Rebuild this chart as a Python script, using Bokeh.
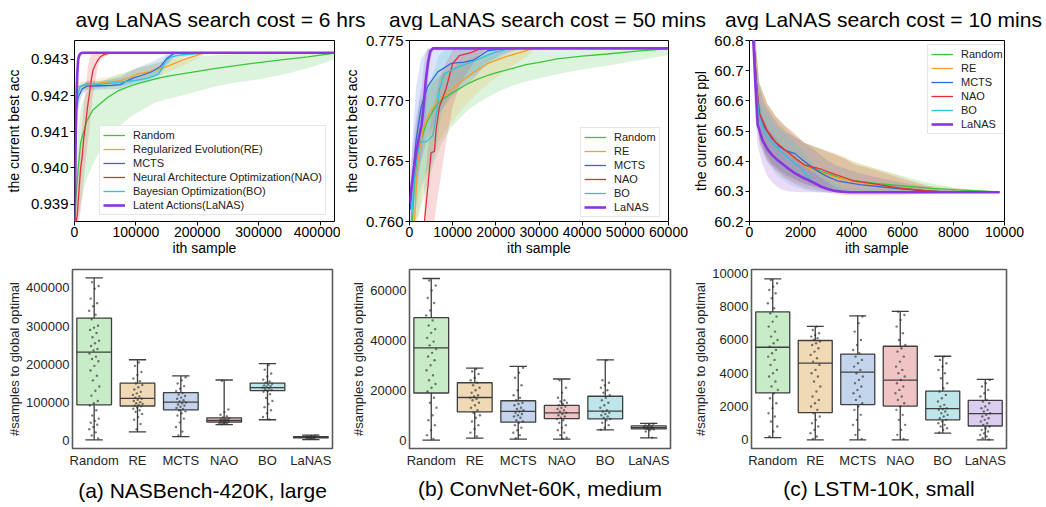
from bokeh.plotting import figure
from bokeh.layouts import column, row
from bokeh.models import (Range1d, Legend, LegendItem, Title, FixedTicker,
                          PrintfTickFormatter, Label)
from bokeh.embed import file_html
from bokeh.resources import INLINE

FONT = "Liberation Sans"

METHODS = ["Random", "RE", "MCTS", "NAO", "BO", "LaNAS"]
LONG_NAMES = ["Random", "Regularized Evolution(RE)", "MCTS",
              "Neural Architecture Optimization(NAO)",
              "Bayesian Optimization(BO)", "Latent Actions(LaNAS)"]
LINE_COLORS = ["#3cc43c", "#f5a02a", "#3567d8", "#e0303a", "#2cc4dc", "#8a35e0"]
BOX_COLORS = ["#c8ebc8", "#f0dab6", "#c4d4ec", "#f0c4c4", "#bee6ea", "#dacdf0"]

TITLES = ["avg LaNAS search cost = 6 hrs", "avg LaNAS search cost = 50 mins",
          "avg LaNAS search cost = 10 mins"]
CAPTIONS = ["(a) NASBench-420K, large", "(b) ConvNet-60K, medium", "(c) LSTM-10K, small"]

# ---------------- (a) NASBench : current best acc ----------------
NB_X_TICKS = [0, 100000, 200000, 300000, 400000]
NB_Y_TICKS = [0.939, 0.940, 0.941, 0.942, 0.943]

nb_rand_x = [0, 3000, 6000, 10000, 15000, 20000, 30000, 42000, 55000, 70000, 90000,
             110000, 130000, 150000, 175000, 200000, 230000, 260000, 300000, 340000, 380000, 424000]
nb_rand_y = [0.9385, 0.9393, 0.9400, 0.9407, 0.9410, 0.9413, 0.9416, 0.94178, 0.94196, 0.94212,
             0.94226, 0.94236, 0.94245, 0.94253, 0.9426, 0.94267, 0.94275, 0.94282, 0.94291,
             0.94299, 0.94307, 0.94317]
nb_rand_lo = [0.9385, 0.9385, 0.9386, 0.9390, 0.9394, 0.9397, 0.9401, 0.9405, 0.9408, 0.9411,
              0.9414, 0.9416, 0.9418, 0.9419, 0.9420, 0.94212, 0.94225, 0.94235, 0.94245,
              0.94258, 0.94275, 0.94300]
nb_rand_hi = [0.9386, 0.9402, 0.9410, 0.9416, 0.9419, 0.9421, 0.94225, 0.94236, 0.94248,
              0.94258, 0.94268, 0.94278, 0.94288, 0.94296, 0.94303, 0.94308, 0.94312, 0.94315,
              0.94318, 0.94318, 0.94318, 0.94318]

nb_re_x = [2000, 10000, 25000, 48000, 75000, 90000, 102000, 120000, 135000, 150000, 165000,
           184000, 196000, 206000, 212000]
nb_re_y = [0.94224, 0.94226, 0.94230, 0.94236, 0.94241, 0.94250, 0.94259, 0.94265, 0.94272,
           0.94280, 0.94290, 0.94303, 0.94309, 0.94315, 0.94318]
nb_re_lo = [0.94212, 0.94214, 0.94218, 0.94222, 0.94226, 0.94234, 0.94242, 0.94248, 0.94255,
            0.94262, 0.94273, 0.94288, 0.94298, 0.94308, 0.94314]
nb_re_hi = [0.94236, 0.94238, 0.94242, 0.9425, 0.94256, 0.94266, 0.94276, 0.94282, 0.94289,
            0.94298, 0.94307, 0.94316, 0.94318, 0.94318, 0.94318]

nb_mcts_x = [3000, 6000, 12500, 20000, 40000, 60000, 75000, 85000, 95000, 110000, 125000,
             140000, 150000, 162000, 170000]
nb_mcts_y = [0.9416, 0.94195, 0.94218, 0.94226, 0.94227, 0.94228, 0.94230, 0.94240, 0.94248,
             0.94256, 0.94265, 0.94280, 0.94302, 0.94316, 0.94318]
nb_mcts_lo = [0.9410, 0.9416, 0.94205, 0.94214, 0.94216, 0.94217, 0.94219, 0.94226, 0.94233,
              0.9424, 0.94249, 0.94262, 0.94285, 0.94306, 0.94314]
nb_mcts_hi = [0.9422, 0.94225, 0.9423, 0.94238, 0.9424, 0.94245, 0.94252, 0.94262, 0.94272,
              0.94282, 0.94292, 0.94305, 0.94314, 0.94318, 0.94318]

nb_nao_x = [2500, 4500, 7000, 10000, 12500, 15000, 18000, 21000, 24000, 27000, 30000, 34000,
            38000, 42000, 48000, 54000, 62000]
nb_nao_y = [0.9385, 0.9387, 0.9393, 0.9400, 0.9403, 0.9408, 0.9412, 0.94165, 0.9420, 0.9424,
            0.9427, 0.94285, 0.94298, 0.94307, 0.94313, 0.94316, 0.94318]
nb_nao_lo = [0.9385, 0.9385, 0.9385, 0.9388, 0.9392, 0.9397, 0.9402, 0.9406, 0.9410, 0.9415,
             0.9420, 0.9424, 0.9428, 0.9430, 0.94305, 0.94312, 0.94316]
nb_nao_hi = [0.9389, 0.9393, 0.9400, 0.9407, 0.9412, 0.9417, 0.9422, 0.9427, 0.9430, 0.94312,
             0.94318, 0.94318, 0.94318, 0.94318, 0.94318, 0.94318, 0.94318]

nb_bo_x = [2000, 5000, 9000, 20000, 40000, 60000, 80000, 100000, 120000, 130000, 137000,
           143000, 149000, 157000, 173000, 200000, 210000]
nb_bo_y = [0.9416, 0.9420, 0.94224, 0.94233, 0.94231, 0.94234, 0.94238, 0.94242, 0.94248,
           0.94254, 0.9426, 0.94277, 0.94296, 0.94306, 0.94312, 0.94316, 0.94318]
nb_bo_lo = [0.9410, 0.9415, 0.9420, 0.94222, 0.94222, 0.94224, 0.94228, 0.94232, 0.94237,
            0.94242, 0.94246, 0.94262, 0.94283, 0.94296, 0.94305, 0.94312, 0.94316]
nb_bo_hi = [0.9422, 0.94226, 0.94232, 0.9424, 0.9424, 0.94244, 0.94248, 0.94253, 0.9426,
            0.94266, 0.94274, 0.94292, 0.94309, 0.94316, 0.94318, 0.94318, 0.94318]

nb_lanas_x = [0, 1000, 2000, 3000, 4500, 6000, 8000, 10000, 13000, 424000]
nb_lanas_y = [0.9385, 0.9395, 0.9408, 0.9418, 0.9426, 0.9430, 0.94312, 0.94316, 0.94318, 0.94318]
nb_lanas_lo = [0.9385, 0.9385, 0.9393, 0.9407, 0.9419, 0.9426, 0.9430, 0.94313, 0.94318, 0.94318]
nb_lanas_hi = [0.9386, 0.9405, 0.9420, 0.9427, 0.9431, 0.94316, 0.94318, 0.94318, 0.94318, 0.94318]

# ---------------- (b) ConvNet : current best acc ----------------
CN_X_TICKS = [0, 10000, 20000, 30000, 40000, 50000, 60000]
CN_Y_TICKS = [0.760, 0.765, 0.770, 0.775]

cn_rand_x = [700, 1150, 2000, 2700, 4000, 5770, 7500, 9620, 11500, 13460, 15800, 18100, 20800,
             23460, 27000, 30400, 34200, 40000, 45800, 52000, 60000]
cn_rand_y = [0.7600, 0.7636, 0.7656, 0.7668, 0.7682, 0.7694, 0.7701, 0.7706, 0.7710, 0.7714,
             0.7718, 0.7721, 0.7724, 0.77265, 0.7730, 0.7732, 0.77347, 0.7737, 0.77388, 0.7741,
             0.77433]
cn_rand_lo = [0.7600, 0.7600, 0.7605, 0.7612, 0.7630, 0.7650, 0.7665, 0.7678, 0.7685, 0.7692,
              0.7698, 0.7703, 0.7708, 0.7712, 0.7716, 0.7719, 0.7722, 0.7726, 0.7729, 0.7733,
              0.7738]
cn_rand_hi = [0.7615, 0.7660, 0.7690, 0.7700, 0.7710, 0.7717, 0.7722, 0.7727, 0.7731, 0.7734,
              0.7737, 0.77395, 0.77415, 0.77425, 0.7743, 0.77435, 0.77435, 0.77435, 0.77435,
              0.77435, 0.77435]

cn_re_x = [1150, 1930, 3080, 4620, 6540, 8850, 11930, 15000, 18100, 22700, 26500, 28500]
cn_re_y = [0.7600, 0.7649, 0.7676, 0.7690, 0.7700, 0.7707, 0.7716, 0.7724, 0.7731, 0.7737,
           0.7741, 0.77435]
cn_re_lo = [0.7600, 0.7600, 0.7628, 0.7650, 0.7665, 0.7678, 0.7692, 0.7704, 0.7714, 0.7726,
            0.7735, 0.7740]
cn_re_hi = [0.7620, 0.7682, 0.7700, 0.7712, 0.7722, 0.7730, 0.7737, 0.7741, 0.77435, 0.77435,
            0.77435, 0.77435]

cn_mcts_x = [200, 800, 1550, 2700, 4230, 6550, 9620, 12700, 15000, 18100, 21200, 24000]
cn_mcts_y = [0.7610, 0.7640, 0.7668, 0.7695, 0.7712, 0.7724, 0.7731, 0.7732, 0.7734, 0.77415,
             0.77428, 0.77435]
cn_mcts_lo = [0.7600, 0.7608, 0.7625, 0.7650, 0.7670, 0.7688, 0.7703, 0.7712, 0.7719, 0.7732,
              0.7738, 0.7742]
cn_mcts_hi = [0.7625, 0.7675, 0.7712, 0.7735, 0.7743, 0.77435, 0.77435, 0.77435, 0.77435,
              0.77435, 0.77435, 0.77435]

cn_nao_x = [3460, 4230, 5000, 5770, 6150, 6930, 8470, 10000, 11540, 14200, 16150, 17500]
cn_nao_y = [0.7600, 0.7628, 0.7657, 0.7658, 0.7676, 0.7695, 0.7710, 0.7731, 0.77374, 0.7740,
            0.77428, 0.77435]
cn_nao_lo = [0.7600, 0.7600, 0.7600, 0.7600, 0.7612, 0.7630, 0.7665, 0.7695, 0.7712, 0.7728,
             0.7738, 0.7742]
cn_nao_hi = [0.7632, 0.7660, 0.7685, 0.7698, 0.7705, 0.7718, 0.7732, 0.7742, 0.77435, 0.77435,
             0.77435, 0.77435]

cn_bo_x = [400, 1000, 1550, 2300, 3850, 5400, 6150, 6900, 8080, 11170, 15000, 19600, 22700, 25000]
cn_bo_y = [0.7600, 0.7630, 0.7649, 0.7666, 0.7666, 0.7671, 0.7687, 0.7709, 0.77225, 0.7728,
           0.7733, 0.7740, 0.77428, 0.77435]
cn_bo_lo = [0.7600, 0.7600, 0.7610, 0.7625, 0.7640, 0.7650, 0.7660, 0.7680, 0.7698, 0.7712,
            0.7722, 0.7733, 0.7739, 0.7742]
cn_bo_hi = [0.7610, 0.7652, 0.7680, 0.7700, 0.7712, 0.7722, 0.7730, 0.7738, 0.7742, 0.77435,
            0.77435, 0.77435, 0.77435, 0.77435]

cn_lanas_x = [0, 800, 1500, 2200, 2800, 3300, 3800, 4300, 4800, 5400, 60000]
cn_lanas_y = [0.7615, 0.7638, 0.7657, 0.7670, 0.7680, 0.7697, 0.7718, 0.7732, 0.7741, 0.77435,
              0.77435]
cn_lanas_lo = [0.7600, 0.7612, 0.7630, 0.7645, 0.7655, 0.7668, 0.7690, 0.7715, 0.7733, 0.7742,
               0.77435]
cn_lanas_hi = [0.7635, 0.7665, 0.7685, 0.7700, 0.7712, 0.7728, 0.7740, 0.77435, 0.77435,
               0.77435, 0.77435]

# ---------------- (c) LSTM : current best ppl ----------------
LS_X_TICKS = [0, 2000, 4000, 6000, 8000, 10000]
LS_Y_TICKS = [60.2, 60.3, 60.4, 60.5, 60.6, 60.7, 60.8]

ls_rand_x = [100, 170, 260, 382, 700, 1019, 1350, 1656, 2166, 2803, 3439, 3694, 4331, 4968,
             5605, 6242, 7200, 8153, 9427, 9800]
ls_rand_y = [60.95, 60.80, 60.67, 60.56, 60.50, 60.465, 60.44, 60.42, 60.386, 60.366, 60.348,
             60.342, 60.333, 60.326, 60.321, 60.316, 60.31, 60.305, 60.30, 60.298]
ls_rand_lo = [60.95, 60.72, 60.59, 60.48, 60.41, 60.38, 60.36, 60.345, 60.325, 60.315, 60.307,
              60.305, 60.302, 60.30, 60.299, 60.298, 60.297, 60.296, 60.296, 60.296]
ls_rand_hi = [60.95, 60.88, 60.78, 60.66, 60.59, 60.55, 60.52, 60.49, 60.46, 60.44, 60.42,
              60.41, 60.39, 60.375, 60.36, 60.345, 60.325, 60.31, 60.30, 60.299]

ls_re_x = [100, 170, 260, 382, 700, 1019, 1350, 1656, 2166, 2803, 3439, 4076, 4968, 5605,
           6242, 7000, 9800]
ls_re_y = [60.95, 60.80, 60.67, 60.56, 60.50, 60.465, 60.44, 60.42, 60.382, 60.36, 60.345,
           60.333, 60.32, 60.313, 60.306, 60.300, 60.297]
ls_re_lo = [60.95, 60.71, 60.58, 60.47, 60.40, 60.37, 60.35, 60.335, 60.32, 60.31, 60.303,
            60.299, 60.297, 60.296, 60.296, 60.296, 60.296]
ls_re_hi = [60.95, 60.88, 60.78, 60.66, 60.59, 60.55, 60.52, 60.50, 60.46, 60.44, 60.425,
            60.40, 60.375, 60.36, 60.34, 60.32, 60.298]

ls_mcts_x = [100, 170, 260, 382, 600, 892, 1150, 1401, 1783, 2166, 2500, 2803, 3100, 3439,
             4331, 5605, 6879, 7500, 9800]
ls_mcts_y = [60.95, 60.80, 60.67, 60.56, 60.51, 60.474, 60.45, 60.436, 60.425, 60.398, 60.377,
             60.36, 60.347, 60.335, 60.322, 60.311, 60.302, 60.299, 60.297]
ls_mcts_lo = [60.95, 60.72, 60.59, 60.48, 60.43, 60.39, 60.37, 60.355, 60.34, 60.325, 60.315,
              60.308, 60.302, 60.298, 60.296, 60.296, 60.296, 60.296, 60.296]
ls_mcts_hi = [60.95, 60.87, 60.76, 60.65, 60.59, 60.55, 60.52, 60.50, 60.48, 60.46, 60.44,
              60.42, 60.40, 60.385, 60.36, 60.335, 60.315, 60.305, 60.298]

ls_nao_x = [100, 170, 260, 382, 700, 1019, 1350, 1656, 1900, 2166, 2500, 2803, 3100, 3439,
            3750, 4076, 4968, 5860, 6879, 7500, 9800]
ls_nao_y = [60.95, 60.80, 60.67, 60.56, 60.50, 60.463, 60.44, 60.42, 60.402, 60.387, 60.38,
            60.374, 60.364, 60.354, 60.345, 60.335, 60.324, 60.311, 60.302, 60.299, 60.297]
ls_nao_lo = [60.95, 60.70, 60.57, 60.46, 60.40, 60.37, 60.345, 60.33, 60.32, 60.31, 60.305,
             60.30, 60.295, 60.29, 60.288, 60.287, 60.287, 60.288, 60.292, 60.295, 60.296]
ls_nao_hi = [60.95, 60.88, 60.78, 60.66, 60.59, 60.55, 60.52, 60.50, 60.48, 60.46, 60.45,
             60.44, 60.43, 60.42, 60.41, 60.39, 60.37, 60.345, 60.32, 60.31, 60.298]

ls_bo_x = [100, 160, 250, 380, 560, 760, 1000, 1270, 1530, 1780, 2040, 2230, 2420, 2740, 3060,
           3690, 9800]
ls_bo_y = [60.95, 60.80, 60.66, 60.54, 60.50, 60.474, 60.45, 60.43, 60.41, 60.392, 60.376,
           60.355, 60.335, 60.32, 60.308, 60.300, 60.297]
ls_bo_lo = [60.95, 60.72, 60.58, 60.47, 60.42, 60.39, 60.36, 60.34, 60.325, 60.315, 60.308,
            60.303, 60.30, 60.298, 60.297, 60.296, 60.296]
ls_bo_hi = [60.95, 60.86, 60.74, 60.62, 60.58, 60.55, 60.52, 60.50, 60.48, 60.46, 60.44, 60.42,
            60.40, 60.37, 60.34, 60.31, 60.298]

ls_lanas_x = [100, 150, 230, 320, 510, 700, 890, 1080, 1270, 1530, 1780, 2040, 2290, 2550,
              2800, 3060, 3310, 3600, 3950, 9800]
ls_lanas_y = [60.95, 60.80, 60.66, 60.52, 60.47, 60.44, 60.42, 60.405, 60.392, 60.375, 60.36,
              60.348, 60.338, 60.327, 60.316, 60.308, 60.302, 60.299, 60.297, 60.297]
ls_lanas_lo = [60.95, 60.70, 60.55, 60.45, 60.39, 60.35, 60.33, 60.315, 60.305, 60.30, 60.298,
               60.297, 60.297, 60.297, 60.296, 60.296, 60.296, 60.296, 60.296, 60.296]
ls_lanas_hi = [60.95, 60.85, 60.75, 60.62, 60.55, 60.51, 60.49, 60.47, 60.45, 60.43, 60.41,
               60.39, 60.375, 60.36, 60.345, 60.33, 60.315, 60.305, 60.299, 60.298]

# ---------------- box plots: #samples to global optimal ----------------
NB_BOX_TICKS = [0, 100000, 200000, 300000, 400000]
NB_WLO = [2500, 23000, 11000, 42000, 55000, 3000]
NB_Q1 = [94000, 91000, 81000, 49000, 131000, 7500]
NB_MED = [232000, 111000, 101000, 53000, 139000, 9000]
NB_Q3 = [321000, 151000, 126000, 60000, 151000, 11000]
NB_WHI = [426000, 212000, 170000, 159000, 202000, 15000]
NB_POINTS = [
    [415000, 405000, 398000, 372000, 360000, 352000, 340000, 330000, 318000, 301000, 296000,
     290000, 282000, 271000, 262000, 255000, 248000, 240000, 236000, 228000, 220000, 214000,
     208000, 196000, 184000, 170000, 158000, 142000, 131000, 118000, 104000, 98000, 92000,
     80000, 66000, 58000, 52000, 47000, 42000, 36000, 30000, 22000, 14000, 6000],
    [205000, 196000, 180000, 172000, 163000, 156000, 150000, 146000, 140000, 134000, 128000,
     124000, 120000, 116000, 113000, 110000, 107000, 104000, 101000, 98000, 96000, 94000,
     92000, 90000, 87000, 84000, 80000, 76000, 70000, 62000, 55000, 44000, 30000],
    [166000, 158000, 150000, 143000, 136000, 130000, 125000, 121000, 117000, 113000, 110000,
     106000, 103000, 100000, 98000, 95000, 92000, 89000, 86000, 83000, 80000, 77000, 72000,
     66000, 58000, 48000, 36000, 24000, 14000],
    [157000, 82000, 75000, 68000, 64000, 61000, 59000, 57000, 56000, 55000, 54000, 53000,
     52000, 51000, 50000, 49000, 48000, 47000, 46000, 45000, 44000, 43000],
    [198000, 186000, 176000, 168000, 160000, 155000, 152000, 149000, 147000, 145000, 143000,
     141000, 139000, 137000, 135000, 133000, 131000, 128000, 122000, 112000, 104000, 96000,
     88000, 80000, 72000, 62000, 56000],
    [14000, 12000, 11000, 10500, 10000, 9500, 9000, 8500, 8000, 7500, 7000, 6000, 4500],
]

CN_BOX_TICKS = [0, 20000, 40000, 60000]
CN_WLO = [0, 800, 400, 400, 4100, 900]
CN_Q1 = [18900, 11300, 7200, 8600, 8500, 4500]
CN_MED = [37000, 17100, 11500, 10900, 11600, 5000]
CN_Q3 = [49100, 23000, 15800, 13900, 17600, 5700]
CN_WHI = [64800, 28900, 29600, 24500, 32200, 6700]
CN_POINTS = [
    [64000, 62000, 60000, 57000, 55000, 52000, 50000, 48000, 46000, 44500, 43000, 41000, 39500,
     38000, 36500, 35000, 33500, 32000, 30000, 28000, 26000, 24000, 22500, 21000, 19500, 17000,
     15000, 13000, 10000, 8000, 6000, 4000, 2000, 500],
    [28500, 27500, 26500, 25000, 24000, 23000, 22000, 21000, 20000, 19000, 18000, 17500, 17000,
     16500, 16000, 15000, 14000, 13000, 12000, 11000, 10000, 9000, 7500, 6000, 4500, 3000, 1500],
    [29000, 27000, 25000, 22000, 20000, 18000, 17000, 16000, 15000, 14500, 14000, 13000, 12500,
     12000, 11500, 11000, 10500, 10000, 9500, 9000, 8000, 7500, 7000, 6000, 5000, 4000, 3000,
     2000, 800],
    [24000, 21000, 19000, 17000, 16000, 15500, 15000, 14500, 14000, 13500, 13000, 12500, 12000,
     11500, 11000, 10500, 10000, 9500, 9000, 8500, 8000, 7000, 6000, 5000, 4000, 3000, 2000,
     1000, 500],
    [32000, 24000, 23000, 22000, 21000, 20000, 19000, 18000, 17000, 16000, 15000, 14000, 13000,
     12000, 11500, 11000, 10500, 10000, 9500, 9000, 8500, 8000, 7000, 6000, 5000, 4200],
    [6600, 6200, 5900, 5700, 5500, 5300, 5100, 5000, 4900, 4800, 4700, 4600, 4500, 4300, 4000,
     3500, 1000],
]

LS_BOX_TICKS = [0, 2000, 4000, 6000, 8000, 10000]
LS_WLO = [135, 0, 0, 0, 405, 0]
LS_Q1 = [2820, 1640, 2120, 2030, 1200, 830]
LS_MED = [5560, 4610, 4070, 3590, 1870, 1580]
LS_Q3 = [7680, 5965, 5150, 5620, 2930, 2370]
LS_WHI = [9670, 6810, 7450, 7720, 5020, 3630]
LS_POINTS = [
    [9600, 9400, 9200, 9000, 8800, 8500, 8200, 7900, 7600, 7400, 7100, 6800, 6500, 6200, 6000,
     5800, 5600, 5400, 5200, 5000, 4800, 4500, 4200, 4000, 3800, 3500, 3200, 3000, 2800, 2500,
     2200, 1900, 1600, 1400, 1100, 800, 500, 200],
    [6800, 6600, 6400, 6300, 6200, 6100, 6000, 5900, 5800, 5700, 5500, 5300, 5100, 4900, 4700,
     4500, 4200, 4000, 3800, 3500, 3200, 2900, 2600, 2400, 2200, 2000, 1800, 1600, 1400, 1200,
     1000, 800, 600, 400, 200, 50],
    [7400, 7000, 6500, 6000, 5700, 5400, 5200, 5000, 4800, 4600, 4400, 4200, 4000, 3800, 3600,
     3400, 3200, 3000, 2800, 2600, 2400, 2200, 2000, 1800, 1500, 1200, 900, 600, 300, 50],
    [7700, 7500, 7200, 6800, 6400, 6000, 5700, 5500, 5300, 5000, 4700, 4400, 4200, 4000, 3800,
     3600, 3400, 3200, 3000, 2800, 2600, 2400, 2200, 2000, 1800, 1500, 1200, 900, 600, 300, 50],
    [5000, 4800, 4600, 4400, 4200, 4000, 3700, 3400, 3100, 2900, 2700, 2500, 2300, 2100, 2000,
     1900, 1850, 1800, 1700, 1600, 1500, 1400, 1300, 1200, 1100, 1000, 900, 800, 700, 600, 450],
    [3600, 3400, 3200, 3000, 2800, 2600, 2400, 2300, 2200, 2000, 1900, 1800, 1700, 1600, 1500,
     1400, 1300, 1200, 1100, 1000, 900, 800, 700, 600, 500, 400, 300, 200, 100, 20],
]


def base_fig(width, height, borders, xr, yr):
    l, r, t, b = borders
    p = figure(width=width, height=height, x_range=Range1d(*xr), y_range=Range1d(*yr),
               toolbar_location=None, output_backend="svg",
               min_border_left=l, min_border_right=r, min_border_top=t, min_border_bottom=b)
    p.grid.visible = False
    p.background_fill_color = "white"
    p.border_fill_color = "white"
    for ax in (p.xaxis[0], p.yaxis[0]):
        ax.axis_line_color = None
        ax.minor_tick_line_color = None
        ax.major_label_text_font = FONT
        ax.axis_label_text_font = FONT
        ax.axis_label_text_font_style = "normal"
    return p


def curve_fig(width, height, borders, xr, yr, xticks, yticks, xfmt, yfmt, series,
              ylabel, labels, leg_loc, ylabel_standoff=3):
    p = base_fig(width, height, borders, xr, yr)
    p.outline_line_color = "black"
    p.outline_line_width = 1
    p.outline_line_alpha = 1
    for (xs, ys, lo, hi), c in zip(series, LINE_COLORS):
        p.varea(x=xs, y1=lo, y2=hi, fill_color=c, fill_alpha=0.18)
    rends = []
    for i, ((xs, ys, lo, hi), c) in enumerate(zip(series, LINE_COLORS)):
        rends.append(p.line(xs, ys, line_color=c, line_width=2.6 if i == 5 else 1.3))
    for ax in (p.xaxis[0], p.yaxis[0]):
        ax.major_tick_in = 0
        ax.major_tick_out = 4
        ax.major_tick_line_color = "black"
        ax.major_label_text_color = "black"
        ax.axis_label_text_font_size = "14px"
        ax.axis_label_text_color = "black"
    p.xaxis.major_label_text_font_size = "14px"
    p.yaxis.major_label_text_font_size = "15px"
    p.xaxis.major_label_standoff = 1
    p.yaxis.major_label_standoff = 2
    p.xaxis.axis_label_standoff = 0
    p.yaxis.axis_label_standoff = ylabel_standoff
    p.xaxis.ticker = FixedTicker(ticks=xticks)
    p.yaxis.ticker = FixedTicker(ticks=yticks)
    p.xaxis.formatter = PrintfTickFormatter(format=xfmt)
    p.yaxis.formatter = PrintfTickFormatter(format=yfmt)
    p.xaxis.axis_label = "ith sample"
    p.yaxis.axis_label = ylabel
    items = [LegendItem(label=lab, renderers=[r]) for lab, r in zip(labels, rends)]
    leg = Legend(items=items, location=leg_loc, label_text_font=FONT,
                 label_text_font_size="11px", label_text_color="#222222",
                 glyph_width=22, glyph_height=12, label_height=12, spacing=2,
                 padding=3, margin=0, label_standoff=8,
                 border_line_color="#cccccc", border_line_width=1,
                 background_fill_color="white", background_fill_alpha=0.85)
    p.add_layout(leg)
    return p


def jit(k):
    return ((k * 0.6180339887 + 0.31) % 1.0 - 0.5) * 0.24


def box_fig(width, height, borders, yr, yticks, wlo, q1, med, q3, whi, points, caption,
            cap_offset=0, cap_standoff=8):
    p = base_fig(width, height, borders, (-0.5, 5.5), yr)
    p.outline_line_color = "#5a5a5a"
    p.outline_line_width = 1.6
    idx = list(range(len(METHODS)))
    edge = "#3f3f3f"
    p.segment(x0=idx, y0=q3, x1=idx, y1=whi, line_color=edge, line_width=1.3)
    p.segment(x0=idx, y0=wlo, x1=idx, y1=q1, line_color=edge, line_width=1.3)
    p.segment(x0=[i - 0.2 for i in idx], y0=whi, x1=[i + 0.2 for i in idx], y1=whi,
              line_color=edge, line_width=1.3)
    p.segment(x0=[i - 0.2 for i in idx], y0=wlo, x1=[i + 0.2 for i in idx], y1=wlo,
              line_color=edge, line_width=1.3)
    p.vbar(x=idx, bottom=q1, top=q3, width=0.8, fill_color=BOX_COLORS, line_color=edge,
           line_width=1.3)
    p.segment(x0=[i - 0.4 for i in idx], y0=med, x1=[i + 0.4 for i in idx], y1=med,
              line_color=edge, line_width=1.3)
    xs, ys = [], []
    for i, vals in enumerate(points):
        for k, v in enumerate(vals):
            xs.append(i + jit(k + 7 * i))
            ys.append(v)
    p.scatter(x=xs, y=ys, size=2.4, fill_color="#333333", line_color=None, fill_alpha=0.65)
    for ax in (p.xaxis[0], p.yaxis[0]):
        ax.major_tick_in = 0
        ax.major_tick_out = 0
        ax.major_tick_line_color = None
        ax.major_label_text_color = "#262626"
        ax.major_label_text_font_size = "13px"
    p.xaxis.ticker = FixedTicker(ticks=idx)
    p.xaxis.major_label_overrides = {i: m for i, m in enumerate(METHODS)}
    p.xaxis.major_label_standoff = 4
    p.yaxis.ticker = FixedTicker(ticks=yticks)
    p.yaxis.formatter = PrintfTickFormatter(format="%d")
    p.yaxis.major_label_standoff = 3
    p.yaxis.axis_label = "#samples to global optimal"
    p.yaxis.axis_label_text_font_size = "13px"
    p.yaxis.axis_label_text_color = "#262626"
    p.yaxis.axis_label_standoff = 1
    p.add_layout(Title(text=caption, align="center", text_font=FONT, text_font_size="21px",
                       text_font_style="normal", text_color="black", standoff=cap_standoff,
                       offset=cap_offset), "below")
    return p


def series(*groups):
    return list(groups)


p1 = curve_fig(340, 230, (74, 6, 7, 39), (0, 423500), (0.93852, 0.94352), NB_X_TICKS,
               NB_Y_TICKS, "%d", "%.3f",
               series((nb_rand_x, nb_rand_y, nb_rand_lo, nb_rand_hi),
                      (nb_re_x, nb_re_y, nb_re_lo, nb_re_hi),
                      (nb_mcts_x, nb_mcts_y, nb_mcts_lo, nb_mcts_hi),
                      (nb_nao_x, nb_nao_y, nb_nao_lo, nb_nao_hi),
                      (nb_bo_x, nb_bo_y, nb_bo_lo, nb_bo_hi),
                      (nb_lanas_x, nb_lanas_y, nb_lanas_lo, nb_lanas_hi)),
               "the current best acc", LONG_NAMES, (25, 6), ylabel_standoff=6)
p2 = curve_fig(350, 230, (68, 22, 9, 36), (0, 60000), (0.760, 0.775), CN_X_TICKS,
               CN_Y_TICKS, "%d", "%.3f",
               series((cn_rand_x, cn_rand_y, cn_rand_lo, cn_rand_hi),
                      (cn_re_x, cn_re_y, cn_re_lo, cn_re_hi),
                      (cn_mcts_x, cn_mcts_y, cn_mcts_lo, cn_mcts_hi),
                      (cn_nao_x, cn_nao_y, cn_nao_lo, cn_nao_hi),
                      (cn_bo_x, cn_bo_y, cn_bo_lo, cn_bo_hi),
                      (cn_lanas_x, cn_lanas_y, cn_lanas_lo, cn_lanas_hi)),
               "the current best acc", METHODS, (171, 4))
p3 = curve_fig(356, 230, (54, 42, 10, 37), (0, 10000), (60.2, 60.8), LS_X_TICKS,
               LS_Y_TICKS, "%d", "%.1f",
               series((ls_rand_x, ls_rand_y, ls_rand_lo, ls_rand_hi),
                      (ls_re_x, ls_re_y, ls_re_lo, ls_re_hi),
                      (ls_mcts_x, ls_mcts_y, ls_mcts_lo, ls_mcts_hi),
                      (ls_nao_x, ls_nao_y, ls_nao_lo, ls_nao_hi),
                      (ls_bo_x, ls_bo_y, ls_bo_lo, ls_bo_hi),
                      (ls_lanas_x, ls_lanas_y, ls_lanas_lo, ls_lanas_hi)),
               "the current best ppl", METHODS, (178, 87), ylabel_standoff=2)

p4 = box_fig(340, 247, (72, 8, 7, 55), (-20250, 448100), NB_BOX_TICKS,
             NB_WLO, NB_Q1, NB_MED, NB_Q3, NB_WHI, NB_POINTS, CAPTIONS[0], cap_standoff=12)
p5 = box_fig(350, 247, (69, 20, 9, 52), (-3350, 68400), CN_BOX_TICKS,
             CN_WLO, CN_Q1, CN_MED, CN_Q3, CN_WHI, CN_POINTS, CAPTIONS[1], cap_standoff=9)
p6 = box_fig(356, 247, (56, 40, 9, 52), (-520, 10230), LS_BOX_TICKS,
             LS_WLO, LS_Q1, LS_MED, LS_Q3, LS_WHI, LS_POINTS, CAPTIONS[2], cap_offset=-10,
             cap_standoff=9)

tf = figure(width=1046, height=30, x_range=Range1d(0, 1046), y_range=Range1d(0, 30),
            toolbar_location=None, output_backend="svg", min_border=0,
            x_axis_type=None, y_axis_type=None)
tf.grid.visible = False
tf.outline_line_color = None
for cx, txt in zip([220, 547, 883], TITLES):
    tf.add_layout(Label(x=cx, y=11, text=txt, text_align="center", text_baseline="alphabetic",
                        text_font=FONT, text_font_size="21px", text_color="black"))

layout = column(tf, row(p1, p2, p3), row(p4, p5, p6))
open("out.html", "w").write(file_html(layout, INLINE))
